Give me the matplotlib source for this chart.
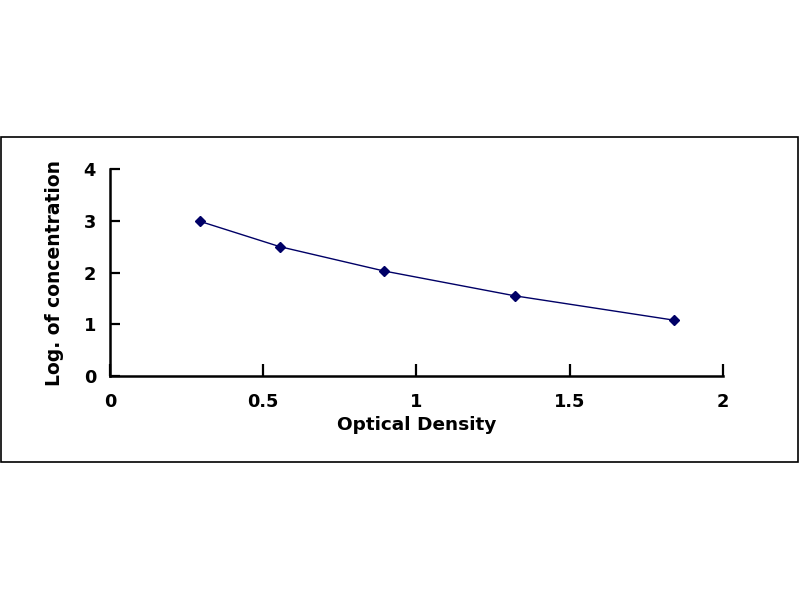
import matplotlib.pyplot as plt
from matplotlib.patches import Rectangle

plt.rcParams['font.family'] = ['DejaVu Sans']

optical_density = [0.293, 0.554, 0.894, 1.321, 1.840]
log_concentration = [2.99, 2.50, 2.03, 1.55, 1.08]
x_ticks = [0, 0.5, 1, 1.5, 2]
y_ticks = [0, 1, 2, 3, 4]

fig = plt.figure(figsize=(8, 6), dpi=100)
fig.patch.set_facecolor('white')

# outer frame around the chart area
fig.patches.append(Rectangle((0.001, 0.230), 0.997, 0.542, transform=fig.transFigure,
                             fill=False, edgecolor='black', linewidth=1.2))

ax = fig.add_axes([0.1375, 0.3733, 0.766, 0.345])
ax.plot(optical_density, log_concentration, color='#000066', linewidth=1.0,
        marker='D', markersize=5, markerfacecolor='#000066', markeredgecolor='#000066')

ax.set_xlim(0, 2)
ax.set_ylim(0, 4)
ax.set_xticks(x_ticks)
ax.set_xticklabels(['0', '0.5', '1', '1.5', '2'])
ax.set_yticks(y_ticks)

for side in ['top', 'right']:
    ax.spines[side].set_visible(False)
for side in ['left', 'bottom']:
    ax.spines[side].set_linewidth(1.8)

ax.tick_params(axis='x', direction='in', length=9, width=1.6, pad=12, labelsize=12.8)
ax.tick_params(axis='y', direction='in', length=7, width=1.6, pad=10, labelsize=12.8)
for lbl in ax.get_xticklabels() + ax.get_yticklabels():
    lbl.set_fontweight('bold')

ax.set_xlabel('Optical Density', fontsize=13.3, fontweight='bold', labelpad=4)
ax.set_ylabel('Log. of concentration', fontsize=13.5, fontweight='bold', labelpad=14)

fig.savefig('out.png', dpi=100)
